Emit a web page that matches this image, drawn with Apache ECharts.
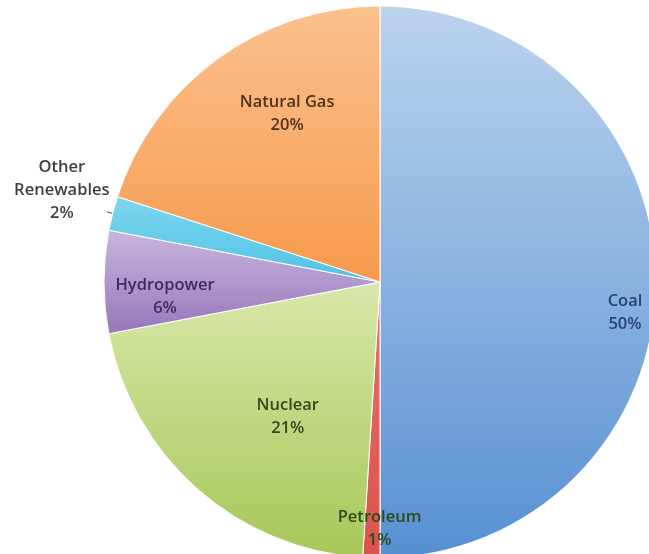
<!DOCTYPE html>
<html>
<head>
<meta charset="utf-8">
<script src="https://cdn.jsdelivr.net/npm/echarts@6/dist/echarts.min.js"></script>
<style>
html,body{margin:0;padding:0;background:#fff;}
#chart{width:649px;height:554px;}
</style>
</head>
<body>
<div id="chart"></div>
<script>
// Data (clockwise from 12 o'clock)
var categories = ['Coal', 'Petroleum', 'Nuclear', 'Hydropower', 'Other Renewables', 'Natural Gas'];
var values = [50, 1, 21, 6, 2, 20];
var labelTexts = ['Coal', 'Petroleum', 'Nuclear', 'Hydropower', 'Other\nRenewables', 'Natural Gas'];

// Styles
var topColors = ['#bcd3ee', '#e8726b', '#d9e8aa', '#c9b6dd', '#7fd6ef', '#fbc18e'];
var bottomColors = ['#5690d2', '#d9534d', '#a6c757', '#9677bb', '#4fc2e4', '#f79a4c'];
var textColors = ['#24456f', '#2f4a1c', '#36471f', '#3d2b5c', '#404040', '#4d3420'];
var labelOffsets = [[104, 31], [4, 106], [1, 29], [-74, 15], [-40, -22], [-10, -54]];

var chart = echarts.init(document.getElementById('chart'));

var data = categories.map(function (c, i) {
  var item = {
    name: c,
    value: values[i],
    itemStyle: {
      color: {
        type: 'linear', x: 0, y: 0, x2: 0, y2: 1,
        colorStops: [{offset: 0, color: topColors[i]}, {offset: 1, color: bottomColors[i]}]
      }
    },
    label: {color: textColors[i]}
  };
  if (c === 'Other Renewables') {
    item.label = {position: 'outside', color: textColors[i]};
    item.labelLine = {show: true, length: 6, length2: 0, lineStyle: {color: '#555', width: 1}};
  }
  return item;
});

chart.setOption({
  animation: false,
  backgroundColor: '#fff',
  series: [{
    type: 'pie',
    center: [380, 282],
    radius: 276,
    startAngle: 90,
    clockwise: true,
    avoidLabelOverlap: false,
    itemStyle: {borderColor: '#ffffff', borderWidth: 1},
    label: {
      show: true,
      position: 'inside',
      fontFamily: 'Open Sans',
      fontSize: 16.5,
      fontWeight: 600,
      lineHeight: 23,
      align: 'center',
      formatter: function (p) {
        return labelTexts[p.dataIndex] + '\n' + Math.round(p.percent) + '%';
      }
    },
    labelLine: {show: false},
    labelLayout: function (p) {
      var o = labelOffsets[p.dataIndex];
      return {dx: o[0], dy: o[1], align: 'center'};
    },
    data: data
  }]
});
</script>
</body>
</html>
